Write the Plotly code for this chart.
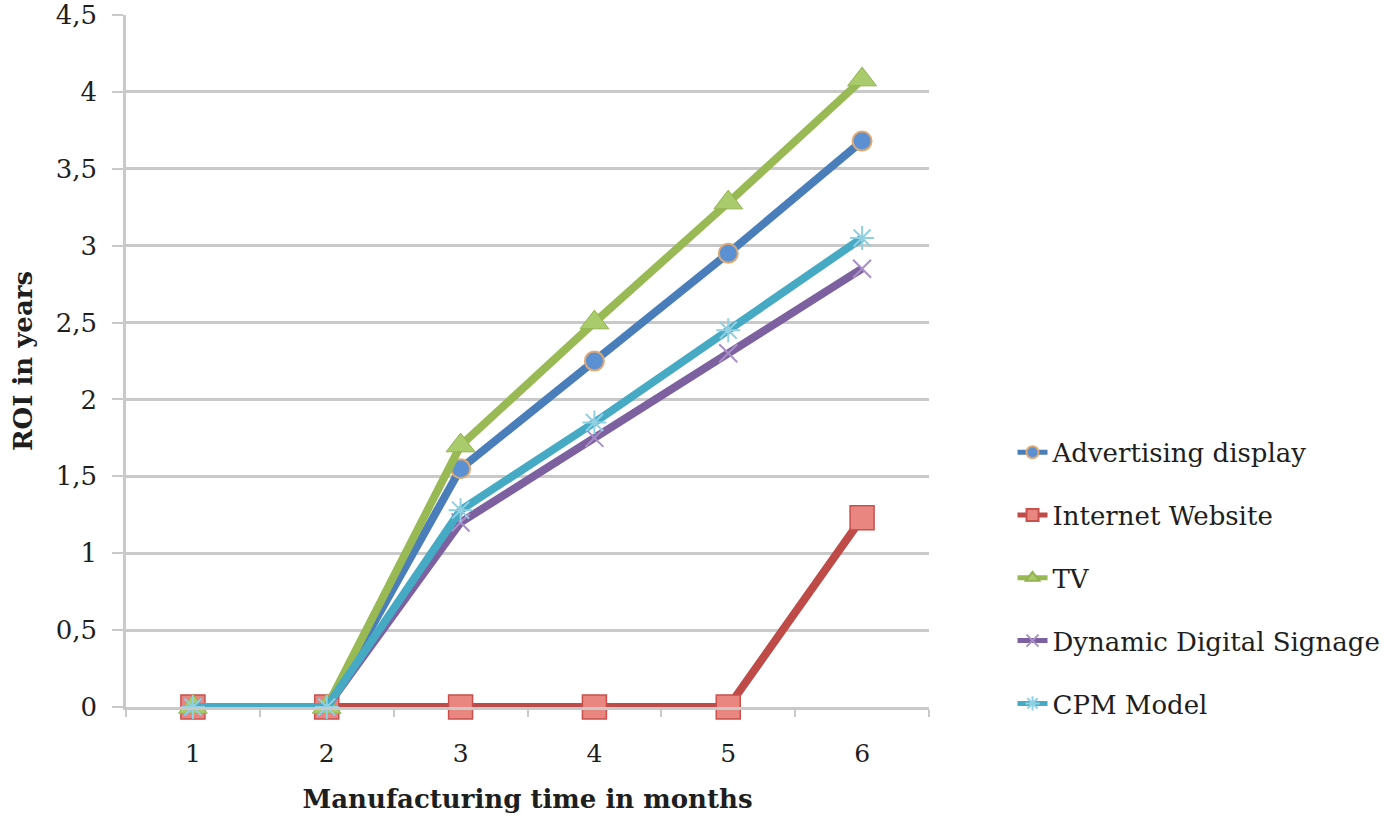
import plotly.graph_objects as go

# Manufacturing time (months) on the category axis
months = ["1", "2", "3", "4", "5", "6"]

# ROI in years per channel
advertising_display = [0, 0, 1.55, 2.25, 2.95, 3.68]
internet_website = [0, 0, 0, 0, 0, 1.23]
tv = [0, 0, 1.70, 2.50, 3.28, 4.08]
dynamic_digital_signage = [0, 0, 1.20, 1.75, 2.30, 2.85]
cpm_model = [0, 0, 1.28, 1.85, 2.45, 3.05]

y_tick_values = [0, 0.5, 1, 1.5, 2, 2.5, 3, 3.5, 4, 4.5]
y_tick_labels = ["0", "0,5", "1", "1,5", "2", "2,5", "3", "3,5", "4", "4,5"]

FONT = "DejaVu Serif"
GRID = "#c9c9c9"
TEXT = "#1e1e1e"

series = [
    ("Advertising display", advertising_display, "#4A7EBB",
     dict(symbol="circle", size=19, color="#5B90D2", line=dict(color="#E0A870", width=2))),
    ("Internet Website", internet_website, "#BE4B48",
     dict(symbol="square", size=24, color="#EA8680", line=dict(color="#C9504C", width=1.5))),
    ("TV", tv, "#98B954",
     dict(symbol="triangle-up", size=25, color="#A9CB6B", line=dict(color="#93B350", width=1))),
    ("Dynamic Digital Signage", dynamic_digital_signage, "#7D60A0",
     dict(symbol="x-thin-open", size=18, color="#A88FC6", line=dict(color="#A88FC6", width=2))),
    ("CPM Model", cpm_model, "#46AAC5",
     dict(symbol="asterisk-open", size=20, color="#8FD0E2", line=dict(color="#8FD0E2", width=2))),
]

fig = go.Figure()
for i, (name, values, color, marker) in enumerate(series):
    fig.add_trace(go.Scatter(
        x=months, y=values, name=name, mode="lines+markers",
        line=dict(color=color, width=8),
        marker=marker,
        cliponaxis=False,
        legendgroup=f"g{i}",
    ))

fig.update_layout(
    width=1394, height=819,
    margin=dict(l=126, r=465, t=15, b=112, autoexpand=False),
    plot_bgcolor="white", paper_bgcolor="white",
    font=dict(family=FONT, size=25, color=TEXT),
    showlegend=True,
    legend=dict(
        x=1.104, xanchor="left", y=0.402, yanchor="top",
        tracegroupgap=26, itemsizing="constant",
        font=dict(family=FONT, size=26, color=TEXT),
        bgcolor="rgba(0,0,0,0)",
    ),
    xaxis=dict(
        type="category",
        range=[-0.5, 5.5],
        automargin=False,
        tickson="boundaries",
        ticks="outside", ticklen=7, tickwidth=2, tickcolor=GRID,
        showgrid=False,
        showline=True, linecolor=GRID, linewidth=2.5,
        tickfont=dict(family=FONT, size=25),
        ticklabelstandoff=22,
        title=dict(text="<b>Manufacturing time in months</b>",
                   font=dict(family=FONT, size=26), standoff=24),
    ),
    yaxis=dict(
        range=[0, 4.5],
        automargin=False,
        tickvals=y_tick_values, ticktext=y_tick_labels,
        ticks="outside", ticklen=11, tickwidth=2, tickcolor=GRID,
        showgrid=True, gridcolor=GRID, gridwidth=2.5,
        showline=True, linecolor=GRID, linewidth=2.5,
        zeroline=False,
        tickfont=dict(family=FONT, size=26),
        ticklabelstandoff=10,
        title=dict(text="<b>ROI in years</b>",
                   font=dict(family=FONT, size=26), standoff=16),
    ),
)

fig.write_html("out.html")
